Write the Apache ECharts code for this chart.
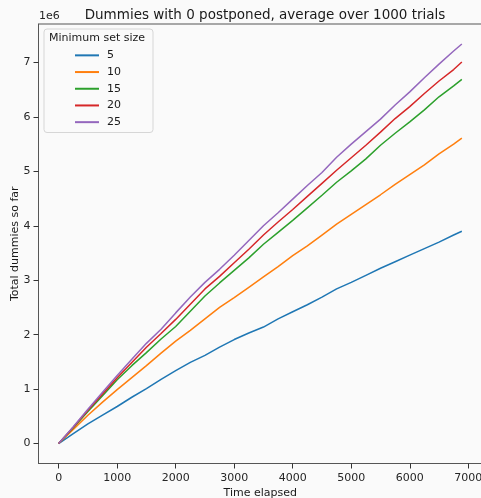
<!DOCTYPE html>
<html>
<head>
<meta charset="utf-8">
<script src="https://cdn.jsdelivr.net/npm/echarts@6/dist/echarts.min.js"></script>
<style>
html,body{margin:0;padding:0;background:#fafafa;}
#chart{width:481px;height:498px;}
</style>
</head>
<body>
<div id="chart"></div>
<script>
// Time elapsed (x values)
const timeElapsed = [0,250,500,750,1000,1250,1500,1750,2000,2250,2500,2750,3000,3250,3500,3750,4000,4250,4500,4750,5000,5250,5500,5750,6000,6250,6500,6750,6890];
// Total dummies so far, in units of 1e6
const size5  = [0,0.18,0.36,0.52,0.68,0.85,1.01,1.18,1.34,1.49,1.62,1.77,1.91,2.03,2.14,2.29,2.42,2.55,2.69,2.84,2.96,3.09,3.22,3.34,3.46,3.58,3.70,3.83,3.90];
const size10 = [0,0.26,0.52,0.76,0.99,1.21,1.43,1.66,1.88,2.08,2.29,2.50,2.68,2.87,3.06,3.25,3.45,3.63,3.83,4.03,4.21,4.39,4.57,4.76,4.94,5.12,5.32,5.50,5.61];
const size15 = [0,0.29,0.59,0.88,1.17,1.43,1.67,1.92,2.15,2.43,2.71,2.95,3.18,3.41,3.66,3.88,4.10,4.33,4.56,4.80,5.01,5.23,5.48,5.70,5.91,6.13,6.37,6.57,6.69];
const size20 = [0,0.30,0.61,0.91,1.21,1.49,1.77,2.02,2.28,2.56,2.84,3.07,3.32,3.57,3.83,4.07,4.30,4.54,4.78,5.02,5.25,5.48,5.72,5.97,6.19,6.43,6.66,6.87,7.01];
const size25 = [0,0.31,0.63,0.94,1.25,1.55,1.84,2.10,2.40,2.69,2.96,3.20,3.46,3.73,4.00,4.24,4.49,4.74,4.98,5.26,5.50,5.73,5.96,6.22,6.46,6.72,6.97,7.21,7.34];
const seriesNames = ['5','10','15','20','25'];
const seriesValues = [size5,size10,size15,size20,size25];
const xTicks = [0,1000,2000,3000,4000,5000,6000,7000];
const yTicks = [0,1,2,3,4,5,6,7];
const colors = ['#1f77b4','#ff7f0e','#2ca02c','#d62728','#9467bd'];

const FONT = 'DejaVu Sans';
const SPINE = '#555555';
const chart = echarts.init(document.getElementById('chart'), null, {renderer:'canvas'});
chart.setOption({
  animation:false,
  backgroundColor:'#fafafa',
  textStyle:{fontFamily:FONT},
  title:{
    text:'Dummies with 0 postponed, average over 1000 trials',
    left:260, top:3, textAlign:'center',
    textStyle:{fontFamily:FONT,fontSize:13.5,fontWeight:'normal',color:'#1a1a1a'}
  },
  grid:{left:38.5,top:24,right:-1,bottom:34.5,outerBoundsMode:'none',containLabel:false,
        show:true,borderColor:SPINE,borderWidth:1,backgroundColor:'transparent'},
  xAxis:{
    type:'value', min:-344.5, max:7234.5,
    name:'Time elapsed', nameLocation:'middle', nameGap:24, nameMoveOverlap:false,
    nameTextStyle:{fontFamily:FONT,fontSize:11,color:'#1a1a1a'},
    axisLine:{show:true,onZero:false,lineStyle:{color:SPINE,width:1}},
    axisTick:{show:true,inside:false,length:5,customValues:xTicks,lineStyle:{color:'#333333',width:1}},
    axisLabel:{customValues:xTicks,margin:9,fontFamily:FONT,fontSize:11,color:'#262626',
               formatter:v=>String(v)},
    splitLine:{show:false}
  },
  yAxis:{
    type:'value', min:-0.367, max:7.707,
    name:'Total dummies so far', nameLocation:'middle', nameGap:18, nameMoveOverlap:false,
    nameTextStyle:{fontFamily:FONT,fontSize:11,color:'#1a1a1a'},
    axisLine:{show:true,onZero:false,lineStyle:{color:SPINE,width:1}},
    axisTick:{show:true,inside:false,length:5,customValues:yTicks,lineStyle:{color:'#333333',width:1}},
    axisLabel:{customValues:yTicks,margin:8,fontFamily:FONT,fontSize:11,color:'#262626',
               formatter:v=>String(v)},
    splitLine:{show:false}
  },
  legend:{
    orient:'vertical', left:44, top:29,
    data:seriesNames, icon:'rect', itemWidth:24, itemHeight:2, itemGap:0,
    padding:[18,32,2,31],
    borderColor:'#d6d6d6', borderWidth:1, borderRadius:3, backgroundColor:'rgba(250,250,250,0.8)',
    textStyle:{fontFamily:FONT,fontSize:11,color:'#1a1a1a',lineHeight:16.7,padding:[0,0,0,3]}
  },
  graphic:[
    {type:'text', z:100, left:49, top:33, style:{text:'Minimum set size', font:'11px "DejaVu Sans"', fill:'#1a1a1a'}},
    {type:'text', z:100, left:39, top:11, style:{text:'1e6', font:'11px "DejaVu Sans"', fill:'#262626'}}
  ],
  series: seriesNames.map((n,i)=>({
    name:n, type:'line', symbol:'none', clip:true,
    data: timeElapsed.map((t,j)=>[t, seriesValues[i][j]]),
    lineStyle:{width:1.5,color:colors[i]}, itemStyle:{color:colors[i]}
  }))
});
</script>
</body>
</html>
